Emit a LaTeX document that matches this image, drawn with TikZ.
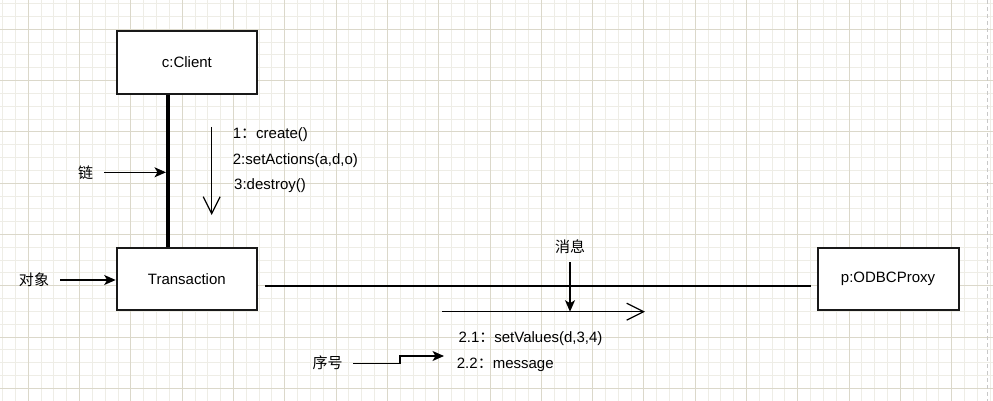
\documentclass[tikz,border=0pt]{standalone}
\usepackage{fontspec}
\setmainfont{Liberation Sans}
\newfontfamily\cjk{Noto Sans CJK SC}
\usetikzlibrary{arrows.meta,calc}
\definecolor{gridminor}{RGB}{238,237,230}
\definecolor{gridmajor}{RGB}{219,216,202}
\definecolor{pageline}{RGB}{200,200,200}
\tikzset{
  objbox/.style={draw=black!90, line width=2pt, fill=white, minimum width=140.3pt, minimum height=62.5pt, inner sep=0pt, font=\fontsize{15}{18}\selectfont},
  lbl/.style={inner sep=0pt, anchor=base west, font=\fontsize{15}{18}\selectfont},
  cjklbl/.style={inner sep=0pt, anchor=base, font=\fontsize{15}{18}\selectfont\cjk},
  pointer/.style={line width=1.2pt, -{Stealth[length=11.5pt,width=10pt,inset=3pt]}},
  msgarrow/.style={line width=1.2pt, -{Straight Barb[length=17pt,width=17pt,line width=1.2pt]}},
  linkline/.style={line width=4.5pt},
  assoc/.style={line width=1.2pt}
}
\begin{document}
\begin{tikzpicture}[x=1pt,y=-1pt]
\useasboundingbox (0,0) rectangle (993,401);
\fill[white] (0,0) rectangle (993,401);
% grid
\foreach \i in {0,...,77} \draw[gridminor, line width=1pt] ({2.65+12.825*\i},0) -- ({2.65+12.825*\i},401);
\foreach \i in {0,...,31} \draw[gridminor, line width=1pt] (0,{3.65+12.825*\i}) -- (993,{3.65+12.825*\i});
\foreach \i in {0,...,18} \draw[gridmajor, line width=1pt] ({28.3+51.3*\i},0) -- ({28.3+51.3*\i},401);
\foreach \i in {0,...,7} \draw[gridmajor, line width=1pt] (0,{29.3+51.3*\i}) -- (993,{29.3+51.3*\i});
\draw[pageline, line width=1.5pt, dash pattern=on 4pt off 3pt] (987.3,0) -- (987.3,401);

% objects
\node[objbox] (client) at (186.85,62.5) {c:Client};
\node[objbox] (trans) at (186.85,279.2) {Transaction};
\node[objbox, minimum width=141pt] (odbc) at (888,279.2) {p:ODBCProxy};

% link between client and transaction
\coordinate (lx) at (168,0);
\draw[linkline] (client.south -| lx) -- (trans.north -| lx);

% association transaction -- odbc
\draw[assoc] ($(trans.east)+(7,6.8)$) -- ($(odbc.west)+(-5.5,6.8)$);

% message arrow down with labels
\coordinate (d1) at (211.7,127);
\coordinate (d2) at (211.7,215);
\draw[msgarrow] (d1) -- (d2);
\node[lbl] (m1) at (232.7,138.5) {1{\cjk ：}create()};
\node[lbl] (m2) at (232.7,164.5) {2:setActions(a,d,o)};
\node[lbl] (m3) at (234,189.5) {3:destroy()};

% message arrow right
\coordinate (r1) at (442,311.7);
\coordinate (r2) at (645,311.7);
\draw[msgarrow] (r1) -- (r2);
\node[lbl] (m21) at (458.3,342.2) {2.1{\cjk ：}setValues(d,3,4)};
\node[lbl] (m22) at (456.7,368.2) {2.2{\cjk ：}message};

% annotations
\node[cjklbl] (lian) at (85.7,178) {链};
\coordinate (lianend) at (166,172.3);
\draw[pointer] (104,172.3) -- (lianend);

\node[cjklbl] (duix) at (34,285.5) {对象};
\draw[pointer] (60,280) -- (trans.west |- 0,280);

\node[cjklbl] (xiaoxi) at (570,252.5) {消息};
\coordinate (xiaoxiend) at (570,311.7);
\draw[pointer] (570,262) -- (xiaoxiend);

\node[cjklbl] (xuhao) at (327.5,368.8) {序号};
\coordinate (xuhaoend) at (444,356);
\draw[pointer] (353,363.3) -- (400,363.3) -- (400,356) -- (xuhaoend);
\end{tikzpicture}
\end{document}
